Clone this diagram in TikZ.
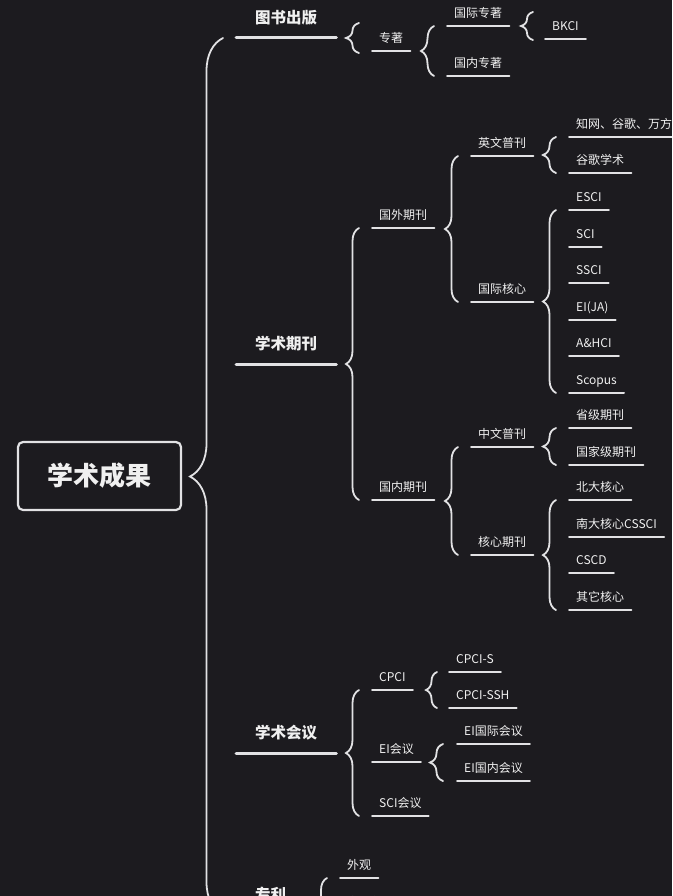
\documentclass[tikz,border=0pt]{standalone}
\usepackage{fontspec}
\setmainfont{Noto Sans CJK SC}
\usetikzlibrary{calc,decorations.pathreplacing}

\definecolor{bgcol}{RGB}{28,27,31}
\definecolor{lncol}{RGB}{226,226,228}
\definecolor{txtcol}{RGB}{240,240,240}

\begin{document}
\begin{tikzpicture}[
  x=1pt, y=-1pt,
  rootbox/.style={draw=lncol, line width=2.2pt, rounded corners=5pt, minimum width=163pt, minimum height=68pt, text=txtcol, font=\fontsize{26}{30}\selectfont\bfseries},
  ul/.style={append after command={(\tikzlastnode.south west) edge[lncol, line width=#1, line cap=round] (\tikzlastnode.south east)}},
  main/.style={anchor=south west, text=txtcol, font=\fontsize{15.5}{18}\selectfont\bfseries, inner xsep=19pt, inner ysep=0pt, text height=12pt, text depth=14pt, ul=3pt},
  topic/.style={anchor=south west, text=txtcol, font=\fontsize{12}{14}\selectfont, inner xsep=7pt, inner ysep=0pt, text height=10pt, text depth=8.4pt, ul=2pt},
  brc/.style={draw=lncol, line width=1.8pt, line cap=round, decorate, decoration={brace, amplitude=#1}},
  brc/.default=13pt
]
\useasboundingbox (0,0) rectangle (672,896);
\clip (0,0) rectangle (672,896);
\fill[bgcol] (0,0) rectangle (672,896);

% centre
\node[rootbox] (root) at (99.5,476) {学术成果};

% first level
\node[main] (tsbp) at (236,38) {图书出版};
\node[main] (xsqk) at (236,364) {学术期刊};
\node[main] (xshy) at (236,753) {学术会议};
\node[main] (zl) at (236,915) {专利};
\draw[brc=33pt] ([xshift=-13pt]zl.south west) -- ([xshift=-13pt]tsbp.south west);

% books
\node[topic] (zz) at (372,51) {专著};
\draw[brc] ($(zz.south west |- tsbp.south)+(-13,15)$) -- ($(zz.south west |- tsbp.south)+(-13,-15)$);
\node[topic] (gjzz) at (447,26) {国际专著};
\node[topic] (gnzz) at (447,76) {国内专著};
\draw[brc] ([xshift=-13pt]gnzz.south west) -- ([xshift=-13pt]gjzz.south west);
\node[topic] (bkci) at (545,39) {BKCI};
\draw[brc=12pt] ($(bkci.south west |- gjzz.south)+(-12,14)$) -- ($(bkci.south west |- gjzz.south)+(-12,-14)$);

% journals
\node[topic] (gwqk) at (372,228) {国外期刊};
\node[topic] (gnqk) at (372,500) {国内期刊};
\draw[brc] ([xshift=-13pt]gnqk.south west) -- ([xshift=-13pt]gwqk.south west);

\node[topic] (ywpk) at (471,156) {英文普刊};
\node[topic] (gjhx) at (471,302) {国际核心};
\draw[brc] ([xshift=-13pt]gjhx.south west) -- ([xshift=-13pt]ywpk.south west);
\node[topic] (zwgg) at (569,137) {知网、谷歌、万方};
\node[topic] (ggxs) at (569,173) {谷歌学术};
\draw[brc] ([xshift=-13pt]ggxs.south west) -- ([xshift=-13pt]zwgg.south west);
\foreach \nm/\lb [count=\i from 0] in {esci/ESCI, sci/SCI, ssci/SSCI, eija/EI(JA), ahci/A\&HCI, scopus/Scopus}
  \node[topic] (\nm) at (569,{210+36.6*\i}) {\lb};
\draw[brc] ([xshift=-13pt]scopus.south west) -- ([xshift=-13pt]esci.south west);

\node[topic] (zwpk) at (471,447) {中文普刊};
\node[topic] (hxqk) at (471,555) {核心期刊};
\draw[brc] ([xshift=-13pt]hxqk.south west) -- ([xshift=-13pt]zwpk.south west);
\node[topic] (sjqk) at (569,428) {省级期刊};
\node[topic] (gjjqk) at (569,465) {国家级期刊};
\draw[brc] ([xshift=-13pt]gjjqk.south west) -- ([xshift=-13pt]sjqk.south west);
\foreach \nm/\lb [count=\i from 0] in {bdhx/北大核心, ndhx/南大核心CSSCI, cscd/CSCD, qthx/其它核心}
  \node[topic] (\nm) at (569,{500+36.7*\i}) {\lb};
\draw[brc] ([xshift=-13pt]qthx.south west) -- ([xshift=-13pt]bdhx.south west);

% conferences
\node[topic] (cpci) at (372,690) {CPCI};
\node[topic] (eihy) at (372,762) {EI会议};
\node[topic] (scihy) at (372,816) {SCI会议};
\draw[brc] ([xshift=-13pt]scihy.south west) -- ([xshift=-13pt]cpci.south west);
\node[topic] (cpcis) at (449,672) {CPCI-S};
\node[topic] (cpcissh) at (449,708) {CPCI-SSH};
\draw[brc=11pt] ([xshift=-12pt]cpcissh.south west) -- ([xshift=-12pt]cpcis.south west);
\node[topic] (eigj) at (457,744) {EI国际会议};
\node[topic] (eign) at (457,781) {EI国内会议};
\draw[brc] ([xshift=-14pt]eign.south west) -- ([xshift=-14pt]eigj.south west);

% patents
\node[topic] (wg) at (340,878) {外观};
\node[topic] (syxx) at (340,915) {实用新型};
\coordinate (zlend) at (340,952);
\draw[brc=12pt] ([xshift=-13pt]zlend) -- ([xshift=-13pt]wg.south west);
\end{tikzpicture}
\end{document}
